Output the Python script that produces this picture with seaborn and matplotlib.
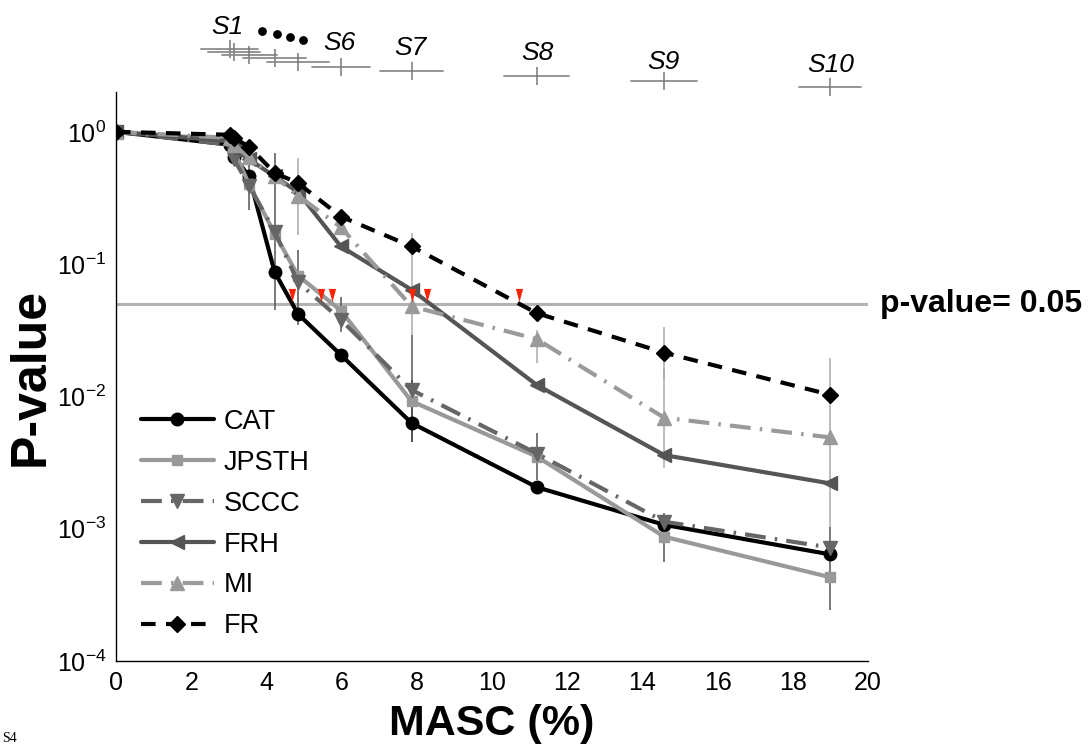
import numpy as np
import pandas as pd
import matplotlib
matplotlib.use("Agg")
import matplotlib.pyplot as plt
import matplotlib.transforms as mtransforms
import seaborn as sns

# ---------------- data ----------------
X_MASC = [0, 3.02, 3.14, 3.54, 4.22, 4.84, 5.98, 7.86, 11.19, 14.58, 18.99]

CAT   = [1.0, 0.80, 0.65, 0.46, 0.087, 0.042, 0.0206, 0.0063, 0.00206, 0.00107, 0.00064]
JPSTH = [1.0, 0.87, 0.72, 0.40, 0.17, 0.082, 0.0446, 0.0092, 0.00351, 0.00087, 0.00043]
SCCC  = [1.0, 0.80, 0.62, 0.39, 0.176, 0.073, 0.038, 0.0112, 0.0037, 0.00113, 0.00072]
FRH   = [1.0, 0.85, 0.74, 0.62, 0.46, 0.35, 0.136, 0.064, 0.0122, 0.0036, 0.0022]
MI    = [1.0, 0.90, 0.80, 0.64, 0.46, 0.33, 0.19, 0.048, 0.0271, 0.0069, 0.0049]
FR    = [1.0, 0.95, 0.90, 0.77, 0.49, 0.41, 0.229, 0.136, 0.0426, 0.0214, 0.0103]

SERIES_NAMES = ["CAT", "JPSTH", "SCCC", "FRH", "MI", "FR"]
SERIES_VALUES = [CAT, JPSTH, SCCC, FRH, MI, FR]

# error bars: (series, point index, lower, upper)
ERR_SERIES = ["SCCC", "JPSTH", "MI", "SCCC", "SCCC", "MI", "CAT", "SCCC", "MI", "SCCC",
              "FR", "MI", "JPSTH", "MI", "JPSTH"]
ERR_INDEX = [3, 4, 5, 5, 6, 7, 7, 7, 8, 8, 9, 9, 9, 10, 10]
ERR_LOW = [0.257, 0.0451, 0.1665, 0.0348, 0.0308, 0.0292, 0.00454, 0.0134, 0.01795, 0.00234,
           0.01358, 0.00289, 0.000562, 0.00103, 0.000244]
ERR_HIGH = [0.694, 0.694, 0.636, 0.128, 0.0566, 0.1724, 0.0134, 0.0292, 0.0319, 0.00531,
            0.0336, 0.01644, 0.00132, 0.0196, 0.00103]

# significance crossing markers on p = 0.05
P_THRESHOLD = 0.05
CROSS_X = [4.68, 5.46, 5.75, 7.86, 8.26, 10.72]

# scenario annotations (top)
SCEN_CENTER = [3.02, 3.14, 3.54, 4.22, 4.84, 5.98, 7.86, 11.19, 14.58, 18.99]
SCEN_HALF = [0.76, 0.70, 0.73, 0.83, 0.83, 0.78, 0.84, 0.87, 0.87, 0.82]
SCEN_LABELS = ["S1", "S6", "S7", "S8", "S9", "S10"]
SCEN_LABEL_X = [2.97, 5.95, 7.82, 11.2, 14.55, 19.0]

X_TICKS = list(range(0, 21, 2))

# ---------------- styling ----------------
sns.set_style("white")
plt.rcParams["font.family"] = ["Liberation Sans", "DejaVu Sans"]
plt.rcParams["mathtext.fontset"] = "custom"
plt.rcParams["mathtext.rm"] = "Liberation Sans"
plt.rcParams["mathtext.it"] = "Liberation Sans:italic"
for k in ["text.color", "axes.labelcolor", "xtick.color", "ytick.color", "axes.edgecolor"]:
    plt.rcParams[k] = "black"

W, H = 1090, 746
fig = plt.figure(figsize=(W / 100, H / 100), dpi=100)
AX_L, AX_R, AX_T, AX_B = 116, 868, 92, 661
ax = fig.add_axes([AX_L / W, (H - AX_B) / H, (AX_R - AX_L) / W, (AX_B - AX_T) / H])

def py2ax(py):
    return (AX_B - py) / (AX_B - AX_T)

styles = {
    "CAT":   dict(color="black",   ls="-",                       marker="o", ms=9),
    "JPSTH": dict(color="#999999", ls="-",                       marker="s", ms=7.5),
    "SCCC":  dict(color="#666666", ls=(0, (5, 2.2, 0.6, 2.2)),   marker="v", ms=10),
    "FRH":   dict(color="#555555", ls="-",                       marker="<", ms=10),
    "MI":    dict(color="#9a9a9a", ls=(0, (5, 2.2, 0.6, 2.2)),   marker="^", ms=10),
    "FR":    dict(color="black",   ls=(0, (3.5, 2.5)),           marker="D", ms=8),
}
err_colors = {"CAT": "#222222", "JPSTH": "#555555", "SCCC": "#555555",
              "FRH": "#555555", "MI": "#aaaaaa", "FR": "#aaaaaa"}

# p-value threshold line
ax.axhline(P_THRESHOLD, color="#b3b3b3", lw=2.2, zorder=1)

# error bars
for s, i, lo, hi in zip(ERR_SERIES, ERR_INDEX, ERR_LOW, ERR_HIGH):
    ax.vlines(X_MASC[i], lo, hi, color=err_colors[s], lw=1.1, zorder=2)

# series
for name, vals in zip(SERIES_NAMES, SERIES_VALUES):
    st = styles[name]
    df = pd.DataFrame({"x": X_MASC, "y": vals})
    sns.lineplot(data=df, x="x", y="y", ax=ax, color=st["color"], linestyle=st["ls"],
                 lw=3, marker=st["marker"], markersize=st["ms"],
                 markeredgecolor=st["color"], markerfacecolor=st["color"],
                 markeredgewidth=1, label=name, zorder=3, sort=False)

# red crossing markers
tri = [(-0.55, 1.0), (0.55, 1.0), (0.0, -1.0), (-0.55, 1.0)]
ax.scatter(CROSS_X, [P_THRESHOLD * 1.16] * len(CROSS_X), marker=tri, s=90,
           color="#ff2200", linewidths=0, zorder=5)

ax.set_yscale("log")
ax.set_xlim(0, 20)
ax.set_ylim(1e-4, 2)
ax.set_xticks(X_TICKS)
ax.set_xticklabels([str(t) for t in X_TICKS])
ax.set_yticks([1e-4, 1e-3, 1e-2, 1e-1, 1])
ax.yaxis.set_minor_locator(matplotlib.ticker.LogLocator(base=10, subs=np.arange(2, 10), numticks=20))
ax.yaxis.set_minor_formatter(matplotlib.ticker.NullFormatter())
ax.tick_params(axis="both", which="major", direction="in", length=6, width=1,
               labelsize=18, color="black", labelcolor="black", pad=7)
ax.tick_params(axis="y", which="minor", direction="in", length=3.5, width=0.8, color="black")
ax.tick_params(axis="x", which="minor", bottom=False)
for sp in ["top", "right"]:
    ax.spines[sp].set_visible(False)
for sp in ["left", "bottom"]:
    ax.spines[sp].set_color("black")
    ax.spines[sp].set_linewidth(1)

ax.set_xlabel("MASC (%)", fontsize=31, fontweight="bold", labelpad=7, color="black")
ax.set_ylabel("P-value", fontsize=36, fontweight="bold", labelpad=2, color="black")
ax.grid(False)

# p-value text
trans_y = mtransforms.blended_transform_factory(ax.transAxes, ax.transData)
ax.text(1.016, P_THRESHOLD, "p-value= 0.05", transform=trans_y, fontsize=23,
        fontweight="bold", va="center", ha="left", color="black")

# scenario bars at top
trans_x = mtransforms.blended_transform_factory(ax.transData, ax.transAxes)
BAR_PY = [49.3, 52.3, 55, 58.3, 61.7, 66.7, 71, 76, 80.7, 86.7]
for c, hw, py in zip(SCEN_CENTER, SCEN_HALF, BAR_PY):
    yy = py2ax(py)
    ax.plot([c - hw, c + hw], [yy, yy], color="#8c8c8c", lw=1.3, transform=trans_x, clip_on=False)
    ax.plot([c], [yy], marker="|", ms=13, mew=1.1, color="#777777", transform=trans_x, clip_on=False)
LABEL_PY = [27, 43, 48, 53, 62, 65]
for lab, lx, py in zip(SCEN_LABELS, SCEN_LABEL_X, LABEL_PY):
    ax.text(lx, py2ax(py), lab, transform=trans_x, fontsize=19, fontstyle="italic",
            ha="center", va="center", color="black")
DOT_X = [3.87, 4.27, 4.62, 4.97]
DOT_PY = [31, 34, 37, 40]
ax.scatter(DOT_X, [py2ax(p) for p in DOT_PY], s=28, color="black", transform=trans_x, clip_on=False)

# legend
leg = ax.legend(loc="lower left", bbox_to_anchor=(0.033, 0.038), frameon=False, fontsize=19.5,
                handlelength=2.7, handletextpad=0.35, labelspacing=0.55, borderpad=0,
                borderaxespad=0)
for t in leg.get_texts():
    t.set_color("black")

# caption fragment at bottom left
fig.text(0.002, 0.002, "S4", fontsize=10, family=["Liberation Serif", "DejaVu Serif"],
         va="bottom", ha="left", color="black")

fig.savefig("out.png", dpi=100)
